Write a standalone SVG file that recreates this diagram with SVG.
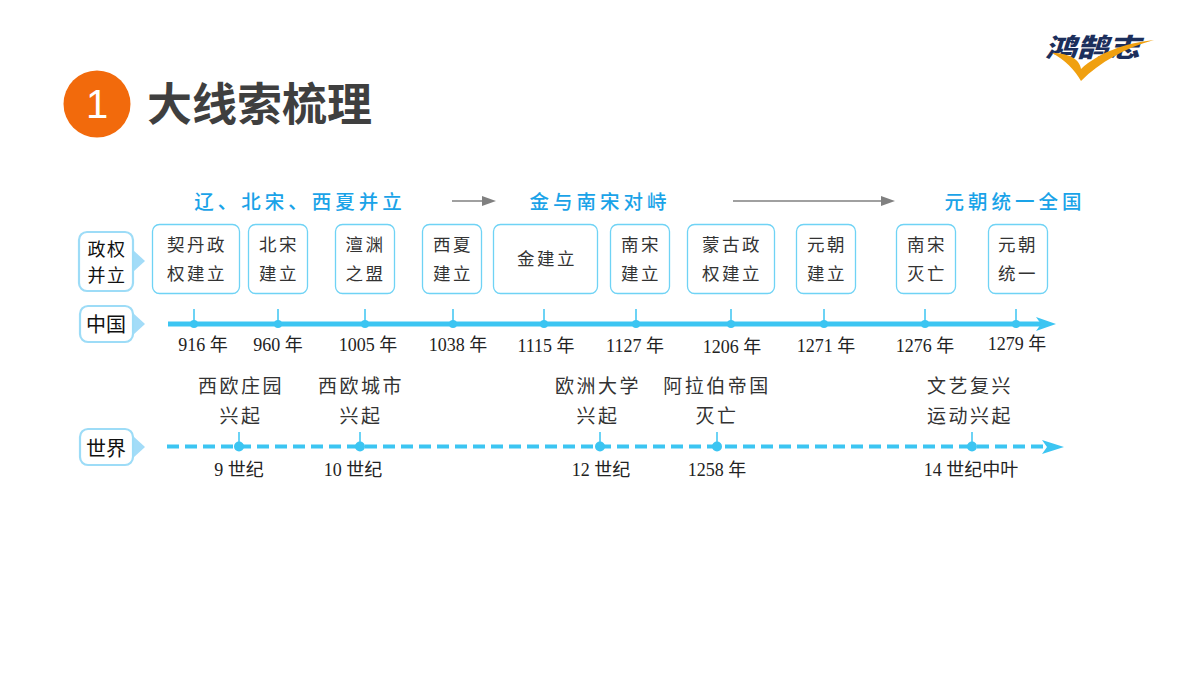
<svg xmlns="http://www.w3.org/2000/svg" width="1200" height="675" viewBox="0 0 1200 675">
<defs>
<style>
text{font-family:"Noto Sans CJK SC","Liberation Sans",sans-serif}
.box{fill:#fff;stroke:#6fd3f5;stroke-width:1.3}
.tag{fill:#fff;stroke:#9ddcf7;stroke-width:2.2}
.ptr{fill:#a3dcf8}
.t{font-size:17.5px;fill:#333;text-anchor:middle;letter-spacing:2.5px;font-weight:400}
.e{font-size:19px}
.tg{font-size:20px;fill:#111;text-anchor:middle}
.tn{font-size:18px;letter-spacing:1.5px}
.d{font-size:18px;fill:#222;text-anchor:middle;font-family:"Liberation Serif","Noto Sans CJK SC",serif}
.b{font-size:19.5px;fill:#1aa3e8;text-anchor:middle;letter-spacing:4px;font-weight:500}
.dot{fill:#3cc5f2}
.tick{stroke:#3cc5f2;stroke-width:1.5}
</style>
</defs>
<rect width="1200" height="675" fill="#fff"/>
<g id="logo">
<text x="1045" y="57" font-size="26" font-weight="900" fill="#1c2f5c" font-style="italic" textLength="95" lengthAdjust="spacingAndGlyphs">鸿鹄志</text>
<path d="M1052 53C1070 53 1080 60 1081 69C1098 53 1125 43 1154 40C1125 48 1100 62 1081 81C1075 70 1065 60 1052 53Z" fill="#f0a010"/>
</g>
<g id="title">
<circle cx="97" cy="104" r="33.5" fill="#f26a0c"/>
<text x="97" y="118" text-anchor="middle" font-size="40" fill="#fff" style="font-family:'Liberation Sans',sans-serif">1</text>
<text x="147" y="121" font-size="45" font-weight="700" fill="#3f3f3f">大线索梳理</text>
</g>
<g id="phases">
<text class="b" x="300" y="209">辽、北宋、西夏并立</text>
<text class="b" x="600" y="209">金与南宋对峙</text>
<text class="b" x="1015" y="209">元朝统一全国</text>
</g>
<g id="connectors">
<path d="M452 201H485" stroke="#808080" stroke-width="1.5"/><path d="M482 196L496 201L482 206Z" fill="#808080"/>
<path d="M733 201H884" stroke="#808080" stroke-width="1.5"/><path d="M881 196L895 201L881 206Z" fill="#808080"/>
<path d="M168 324H1045" stroke="#3cc5f2" stroke-width="5"/>
<path d="M1036 317L1056 324L1036 331L1041 324Z" fill="#3cc5f2"/>
<path d="M167 446.500H1052" stroke="#3cc5f2" stroke-width="4" stroke-dasharray="12 6"/>
<path d="M1042 440L1064 447L1042 454L1047 447Z" fill="#3cc5f2"/>
<g class="tick">
<path d="M194 309V324M278 309V324M365 309V324M453 309V324M544 309V324M636 309V324M731 309V324M824 309V324M925 309V324M1016 309V324M239 432V446M360 432V446M600 432V446M717 432V446M972 432V446"/>
</g>
<g class="dot">
<circle cx="194" cy="324" r="4"/><circle cx="278" cy="324" r="4"/><circle cx="365" cy="324" r="4"/><circle cx="453" cy="324" r="4"/><circle cx="544" cy="324" r="4"/><circle cx="636" cy="324" r="4"/><circle cx="731" cy="324" r="4"/><circle cx="824" cy="324" r="4"/><circle cx="925" cy="324" r="4"/><circle cx="1016" cy="324" r="4"/>
<circle cx="239" cy="446.500" r="5"/><circle cx="360" cy="446.500" r="5"/><circle cx="600" cy="446.500" r="5"/><circle cx="717" cy="446.500" r="5"/><circle cx="972" cy="446.500" r="5"/>
</g>
</g>
<g id="tag-regime"><path class="ptr" d="M133 250L145 261L133 272Z"/><rect class="tag" x="79" y="232" width="54" height="59" rx="8"/><text class="tg tn" x="107" y="255.500">政权</text><text class="tg tn" x="107" y="282">并立</text></g>
<g id="tag-china"><path class="ptr" d="M133 313L145 324L133 335Z"/><rect class="tag" x="80" y="306" width="53" height="36" rx="8"/><text class="tg" x="106" y="332">中国</text></g>
<g id="tag-world"><path class="ptr" d="M133 436L145 447L133 458Z"/><rect class="tag" x="80" y="429" width="53" height="36" rx="8"/><text class="tg" x="106" y="456">世界</text></g>
<g id="n1"><rect class="box" x="152.500" y="224.500" width="87" height="69" rx="7"/><text class="t" x="197" y="251">契丹政</text><text class="t" x="197" y="280">权建立</text></g>
<g id="n2"><rect class="box" x="248.500" y="224.500" width="59" height="69" rx="7"/><text class="t" x="279" y="251">北宋</text><text class="t" x="279" y="280">建立</text></g>
<g id="n3"><rect class="box" x="335.500" y="224.500" width="59" height="69" rx="7"/><text class="t" x="365.500" y="251">澶渊</text><text class="t" x="365.500" y="280">之盟</text></g>
<g id="n4"><rect class="box" x="422.500" y="224.500" width="59" height="69" rx="7"/><text class="t" x="453" y="251">西夏</text><text class="t" x="453" y="280">建立</text></g>
<g id="n5"><rect class="box" x="493.500" y="224.500" width="104" height="69" rx="7"/><text class="t" x="547" y="265">金建立</text></g>
<g id="n6"><rect class="box" x="610.500" y="224.500" width="59" height="69" rx="7"/><text class="t" x="641" y="251">南宋</text><text class="t" x="641" y="280">建立</text></g>
<g id="n7"><rect class="box" x="687.500" y="224.500" width="87" height="69" rx="7"/><text class="t" x="732" y="251">蒙古政</text><text class="t" x="732" y="280">权建立</text></g>
<g id="n8"><rect class="box" x="796.500" y="224.500" width="59" height="69" rx="7"/><text class="t" x="827" y="251">元朝</text><text class="t" x="827" y="280">建立</text></g>
<g id="n9"><rect class="box" x="896.500" y="224.500" width="59" height="69" rx="7"/><text class="t" x="927" y="251">南宋</text><text class="t" x="927" y="280">灭亡</text></g>
<g id="n10"><rect class="box" x="988.500" y="224.500" width="59" height="69" rx="7"/><text class="t" x="1018" y="251">元朝</text><text class="t" x="1018" y="280">统一</text></g>
<g id="china-dates">
<text class="d" x="203" y="351">916 年</text><text class="d" x="278" y="351">960 年</text><text class="d" x="368" y="351">1005 年</text><text class="d" x="458" y="351">1038 年</text><text class="d" x="546" y="352">1115 年</text><text class="d" x="635" y="352">1127 年</text><text class="d" x="732" y="353">1206 年</text><text class="d" x="826" y="352">1271 年</text><text class="d" x="925" y="352">1276 年</text><text class="d" x="1017" y="350">1279 年</text>
</g>
<g id="world-events">
<text class="t e" x="241" y="393">西欧庄园</text><text class="t e" x="241" y="423">兴起</text>
<text class="t e" x="361" y="393">西欧城市</text><text class="t e" x="361" y="423">兴起</text>
<text class="t e" x="598" y="393">欧洲大学</text><text class="t e" x="598" y="423">兴起</text>
<text class="t e" x="717" y="393">阿拉伯帝国</text><text class="t e" x="717" y="423">灭亡</text>
<text class="t e" x="970" y="393">文艺复兴</text><text class="t e" x="970" y="423">运动兴起</text>
</g>
<g id="world-dates">
<text class="d" x="239" y="476">9 世纪</text><text class="d" x="353" y="476">10 世纪</text><text class="d" x="601" y="476">12 世纪</text><text class="d" x="717" y="476">1258 年</text><text class="d" x="971" y="476">14 世纪中叶</text>
</g>
</svg>
